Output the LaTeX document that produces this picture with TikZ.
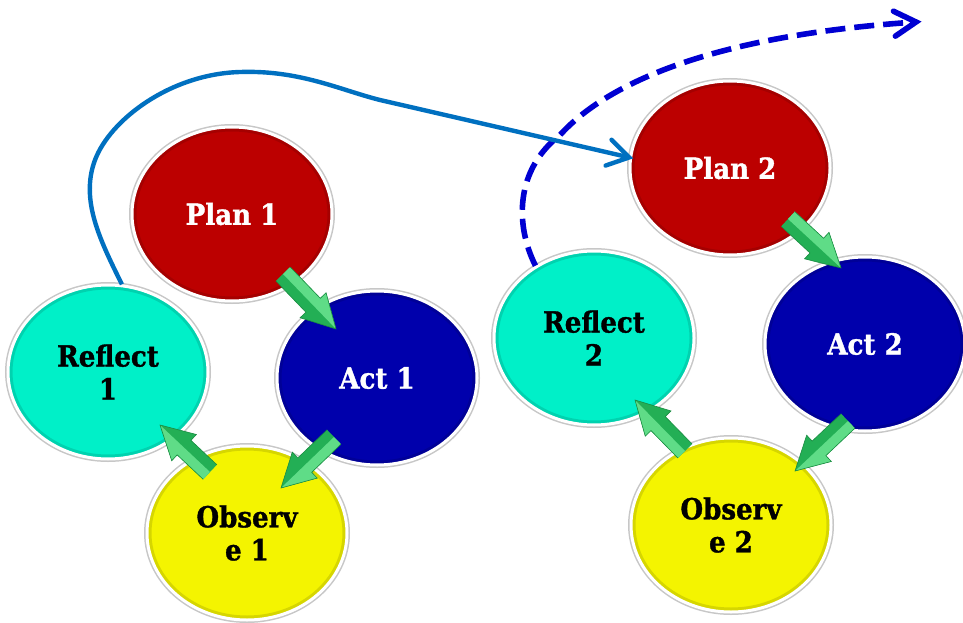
\documentclass[tikz,border=0pt]{standalone}
\usepackage{fontspec}
\newfontfamily\lbl{DejaVu Serif Condensed Bold}[FakeBold=1.2]
\usetikzlibrary{shapes.geometric,calc}

\definecolor{planred}{RGB}{188,0,0}
\definecolor{actblue}{RGB}{0,0,172}
\definecolor{reflcyan}{RGB}{0,240,200}
\definecolor{obsyellow}{RGB}{244,244,0}
\definecolor{loopblue}{RGB}{0,112,192}
\definecolor{nextblue}{RGB}{0,0,210}
\definecolor{arrgreen}{RGB}{35,175,85}
\definecolor{arrlight}{RGB}{95,220,135}
\definecolor{arrdark}{RGB}{25,140,65}

\tikzset{
  stage/.style={ellipse, minimum width=200pt, minimum height=174pt, inner sep=0pt,
    preaction={draw=black!22, line width=6pt},
    path picture={\draw[black, opacity=.12, line width=9pt]
      (path picture bounding box.center) ellipse [x radius=100pt, y radius=87pt];},
    draw=white, line width=3pt, align=center,
    font=\lbl\fontsize{29}{33}\selectfont},
  plan/.style={stage, fill=planred, text=white},
  act/.style={stage, fill=actblue, text=white},
  observe/.style={stage, fill=obsyellow, text=black},
  reflect/.style={stage, fill=reflcyan, text=black},
  loopline/.style={draw=loopblue, line width=4.4pt},
  nextline/.style={draw=nextblue, line width=5.6pt, dash pattern=on 20pt off 9pt},
  chevron/.style={line width=#1, line cap=round, line join=miter},
}

% block arrow from tail #1 to tip #2
\newcommand{\blockarrow}[2]{%
  \path (#1) coordinate (ta) (#2) coordinate (tb);
  \path ($(tb)!33pt!(ta)$) coordinate (th);
  \fill[arrgreen] ($(ta)!10pt!90:(tb)$) -- ($(th)!10pt!90:(tb)$) -- ($(th)!18pt!90:(tb)$)
     -- (tb) -- ($(th)!18pt!-90:(tb)$) -- ($(th)!10pt!-90:(tb)$) -- ($(ta)!10pt!-90:(tb)$) -- cycle;
  \fill[arrlight] ($(ta)!10pt!90:(tb)$) -- ($(th)!10pt!90:(tb)$) -- ($(th)!18pt!90:(tb)$)
     -- (tb) -- (ta) -- cycle;
  \draw[arrdark, line width=0.6pt, line join=miter] ($(ta)!10pt!90:(tb)$) -- ($(th)!10pt!90:(tb)$) -- ($(th)!18pt!90:(tb)$)
     -- (tb) -- ($(th)!18pt!-90:(tb)$) -- ($(th)!10pt!-90:(tb)$) -- ($(ta)!10pt!-90:(tb)$);
}

\begin{document}
\begin{tikzpicture}[x=1pt,y=-1pt]
\useasboundingbox (0,0) rectangle (963,623);
\fill[white] (0,0) rectangle (963,623);

% first cycle
\node[plan]    (plan1) at (232,214) {Plan 1};
\node[reflect] (refl1) at (108,372) {Reflect\\1};
\node[act]     (act1)  at (377,378) {Act 1};
\node[observe] (obs1)  at (247,533) {Observ\\e 1};

% second cycle
\node[plan]    (plan2) at (730,168) {Plan 2};
\node[reflect] (refl2) at (594,338) {Reflect\\2};
\node[act]     (act2)  at (865,344) {Act 2};
\node[observe] (obs2)  at (731,525) {Observ\\e 2};

% green step arrows
\coordinate (a1t) at (283,274); \coordinate (a1h) at (336,329);
\coordinate (a2t) at (334,437); \coordinate (a2h) at (281,488);
\coordinate (a3t) at (210,472); \coordinate (a3h) at (160,425);
\coordinate (b1t) at (788,219); \coordinate (b1h) at (841,268);
\coordinate (b2t) at (848,421); \coordinate (b2h) at (795,471);
\coordinate (b3t) at (685,451); \coordinate (b3h) at (635,400);
\blockarrow{a1t}{a1h}
\blockarrow{a2t}{a2h}
\blockarrow{a3t}{a3h}
\blockarrow{b1t}{b1h}
\blockarrow{b2t}{b2h}
\blockarrow{b3t}{b3h}

% onward loop from the second reflection
\coordinate (onward) at (916,22);
\coordinate (onwardback) at (800,31);
\draw[nextline] (refl2.129) .. controls (515,225) and (515,170) .. (560,135)
   .. controls (610,80) and (720,35) .. (onward);
\draw[nextblue, chevron=5.6pt] ($(onward)!25pt!30:(onwardback)$) -- (onward)
   -- ($(onward)!25pt!-30:(onwardback)$);

% loop from the first reflection into the second plan
\coordinate (loopend) at (plan2.174);
\coordinate (loopback) at (380,100);
\draw[loopline] (refl1.81) .. controls (100,240) and (80,200) .. (95,160)
   .. controls (110,120) and (170,74) .. (240,72)
   .. controls (300,70) and (340,90) .. (loopback) -- (loopend);
\draw[loopblue, chevron=4.4pt] ($(loopend)!25pt!32:(loopback)$) -- (loopend)
   -- ($(loopend)!25pt!-32:(loopback)$);
\end{tikzpicture}
\end{document}
